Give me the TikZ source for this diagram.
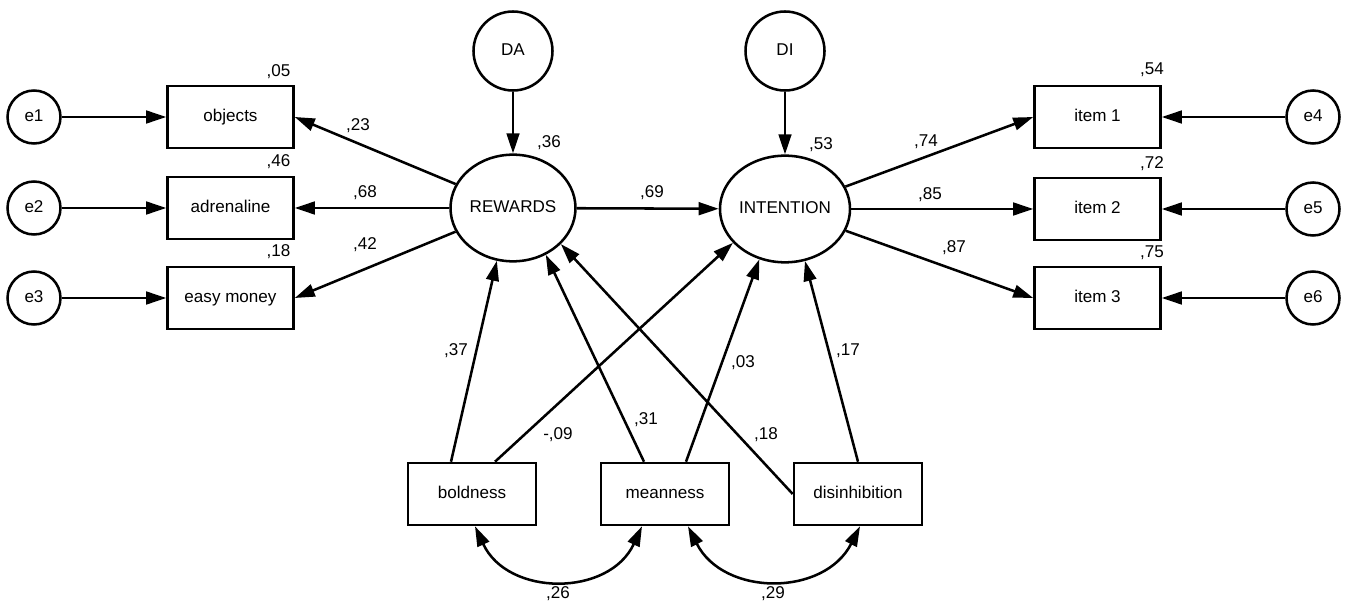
\documentclass[tikz,border=0pt]{standalone}
\usepackage{fontspec}
\setmainfont{Liberation Sans}
\usetikzlibrary{arrows.meta,shapes.geometric,calc}
\begin{document}
\begin{tikzpicture}[x=0.75pt,y=-0.75pt,
  every node/.style={font=\fontsize{12.8}{15}\selectfont},
  stroke/.style={line width=1.9pt},
  reg/.style={stroke, -{Triangle[length=15pt,width=9.5pt]}},
  cov/.style={stroke, {Triangle[length=15pt,width=9.5pt]}-{Triangle[length=15pt,width=9.5pt]}},
  txt/.style={text height=9.2pt, text depth=2.6pt},
  err/.style={draw, stroke, circle, minimum size=39.75pt, inner sep=0pt, txt},
  dist/.style={draw, stroke, circle, minimum size=59.25pt, inner sep=0pt, txt},
  latent/.style={draw, stroke, ellipse, minimum width=93.75pt, minimum height=80pt, inner sep=0pt, txt},
  obs/.style={draw, stroke, rectangle, minimum width=94.5pt, minimum height=46.5pt, inner sep=0pt, txt},
  pred/.style={draw, stroke, rectangle, minimum width=96pt, minimum height=46.5pt, inner sep=0pt, txt},
  est/.style={inner sep=0pt}
]
\useasboundingbox (0,0) rectangle (1354,606);

% measurement model of REWARDS
\node[err] (e1) at (34,117) {e1};
\node[err] (e2) at (34,208) {e2};
\node[err] (e3) at (34,298) {e3};
\node[obs] (objects) at (230.5,117) {objects};
\node[obs] (adrenaline) at (230.5,208) {adrenaline};
\node[obs] (money) at (230.5,298) {easy money};

% latent variables and disturbances
\node[dist] (DA) at (513,51) {DA};
\node[dist] (DI) at (785,51) {DI};
\node[latent] (REWARDS) at (513,208) {REWARDS};
\node[latent] (INTENTION) at (785,209) {INTENTION};

% measurement model of INTENTION
\node[obs] (item1) at (1097.5,117) {item 1};
\node[obs] (item2) at (1097.5,209) {item 2};
\node[obs] (item3) at (1097.5,298) {item 3};
\node[err] (e4) at (1313,117) {e4};
\node[err] (e5) at (1313,209) {e5};
\node[err] (e6) at (1313,298) {e6};

% psychopathy predictors
\node[pred] (boldness) at (472,494) {boldness};
\node[pred] (meanness) at (665,494) {meanness};
\node[pred] (disinhibition) at (858,494) {disinhibition};

% connector end points on the predictor boxes
\coordinate (bA) at ($(boldness.north)+(-21,0)$);
\coordinate (bB) at ($(boldness.north)+(23,0)$);
\coordinate (mA) at ($(meanness.north)+(-21,0)$);
\coordinate (mB) at ($(meanness.north)+(21,0)$);
\coordinate (bS) at ($(boldness.south)+(3,0)$);
\coordinate (mL) at ($(meanness.south)+(-23,0)$);
\coordinate (mR) at ($(meanness.south)+(23,0)$);
\coordinate (dS) at ($(disinhibition.south)+(2,0)$);

% error terms
\draw[reg] (e1) -- (objects);
\draw[reg] (e2) -- (adrenaline);
\draw[reg] (e3) -- (money);
\draw[reg] (e4) -- (item1);
\draw[reg] (e5) -- (item2);
\draw[reg] (e6) -- (item3);
\draw[reg] (DA) -- (REWARDS);
\draw[reg] (DI) -- (INTENTION);

% loadings
\draw[reg] (REWARDS) -- (objects.east);
\draw[reg] (REWARDS) -- (adrenaline);
\draw[reg] (REWARDS) -- (money.east);
\draw[reg] (INTENTION) -- (item1.west);
\draw[reg] (INTENTION) -- (item2);
\draw[reg] (INTENTION) -- (item3.west);

% structural paths
\draw[reg] (REWARDS) -- (INTENTION);
\draw[reg] (bA) -- (REWARDS.-107);
\draw[reg] (bB) -- (INTENTION.-147);
\draw[reg] (mA) -- (REWARDS.-55);
\draw[reg] (mB) -- (INTENTION.-117.5);
\draw[reg] (disinhibition.west) -- (REWARDS.-37);
\draw[reg] (disinhibition.north) -- (INTENTION.-69);

% covariances
\coordinate (c1) at ($(bS)+(32.8,70.7)$);
\coordinate (c2) at ($(mL)+(-32.8,70.7)$);
\coordinate (c3) at ($(mR)+(35.6,70.5)$);
\coordinate (c4) at ($(dS)+(-35.6,70.5)$);
\draw[cov] (bS) .. controls (c1) and (c2) .. (mL);
\draw[cov] (mR) .. controls (c3) and (c4) .. (dS);

% estimates
\node[est] (r05) at (278.5,72) {,05};
\node[est] (r46) at (278.5,162) {,46};
\node[est] (r18) at (278.5,252) {,18};
\node[est] (r54) at (1152,70) {,54};
\node[est] (r72) at (1152,164) {,72};
\node[est] (r75) at (1152,253) {,75};
\node[est] (l23) at (358,126) {,23};
\node[est] (l68) at (365,193) {,68};
\node[est] (l42) at (365,245) {,42};
\node[est] (r36) at (549,143) {,36};
\node[est] (r53) at (821,145) {,53};
\node[est] (p69) at (652,193) {,69};
\node[est] (l74) at (926,142) {,74};
\node[est] (l85) at (930,195) {,85};
\node[est] (l87) at (954,248) {,87};
\node[est] (p37) at (456,351) {,37};
\node[est] (p09) at (558,435) {-,09};
\node[est] (p31) at (646,420) {,31};
\node[est] (p18) at (766,435) {,18};
\node[est] (p03) at (743,363) {,03};
\node[est] (p17) at (848,351) {,17};
\node[est] (c26) at (558,594) {,26};
\node[est] (c29) at (773,594) {,29};
\end{tikzpicture}
\end{document}
